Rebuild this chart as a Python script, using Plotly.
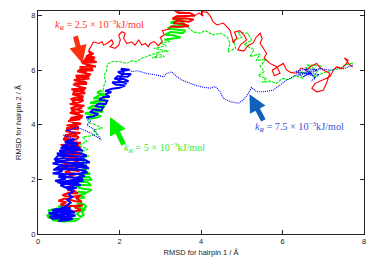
import plotly.graph_objects as go

# ---- trajectories (RMSD hairpin 1, RMSD hairpin 2) ----
# dense (heavily sampled) regions of each trajectory; None separates pieces
red_dense = [
 (0.62,0.9),(0.85,0.82),(1.05,0.88),(0.9,0.98),(1.1,1.05),(0.75,1.02),(0.55,1.08),(0.7,1.16),(0.5,1.22),(0.66,1.3),(0.92,1.2),(1.08,1.18),(0.95,1.3),(1.04,1.4),(0.78,1.36),(0.6,1.42),(0.74,1.5),(0.98,1.48),(0.9,1.58),(0.72,1.6),(0.86,1.68),(0.8,1.76),
 (0.92,1.86),(0.8,1.95),(0.9,2.05),(0.76,2.12),
 (0.95,2.2),(0.66,2.26),(0.82,2.34),(1.02,2.3),(0.6,2.42),(0.75,2.5),(1.04,2.46),(0.88,2.58),(0.58,2.62),(0.7,2.7),(1.05,2.72),(0.92,2.8),(0.56,2.86),(0.8,2.9),(1.08,2.94),(0.74,3.0),(0.6,3.06),(0.95,3.1),(1.04,3.18),(0.62,3.16),(0.58,3.26),(0.86,3.28),(1.05,3.34),(0.7,3.38),(0.62,3.48),(0.94,3.46),(1.0,3.56),(0.66,3.6),(0.8,3.66),(1.04,3.7),(0.68,3.76),(0.74,3.86),(1.0,3.84),(0.9,3.94),(0.7,3.98),(1.06,4.04),(0.86,4.1),(0.74,4.14),(1.04,4.2),(0.8,4.26),(1.1,4.32),(0.9,4.38),(0.78,4.44),(1.12,4.48),(0.96,4.56),(0.8,4.6),(0.9,4.66),(1.14,4.7),(0.78,4.76),(1.0,4.82),(1.12,4.9),(0.8,4.94),(0.92,5.0),(1.12,5.04),(0.84,5.12),(1.16,5.16),(0.98,5.22),(0.82,5.3),(1.18,5.34),(1.0,5.4),(0.86,5.48),(1.2,5.5),(1.06,5.58),(0.88,5.64),(1.26,5.7),(1.1,5.74),(0.92,5.8),(1.3,5.84),(1.12,5.9),(0.96,5.96),(1.36,6.0),(1.2,6.06),(1.02,6.12),(1.42,6.14),(1.26,6.2),(1.08,6.26),(1.44,6.3),(1.3,6.36),(1.14,6.42),(1.4,6.46),(1.22,6.54),(1.36,6.6),(1.24,6.7),
 (1.3,6.62),(1.18,6.5),(1.38,6.38),(1.06,6.32),(1.22,6.16),(1.34,6.06),(1.0,6.02),(1.16,5.92),(1.26,5.78),(0.94,5.74),(1.1,5.62),(1.2,5.54),(0.9,5.52),(1.06,5.36),(1.14,5.26),(0.86,5.2),(1.02,5.08),(1.1,4.98),(0.84,4.86),(0.96,4.72),(1.08,4.62),(0.82,4.52),(1.0,4.42),(1.06,4.26),(0.78,4.2),(0.9,4.02),(1.0,3.92),(0.7,3.88),(0.82,3.72),(0.96,3.62),(0.64,3.54),(0.8,3.4),(1.0,3.24),(0.66,3.2),(0.8,3.04),(1.02,2.98),(0.62,2.96),(0.76,2.8),(1.0,2.62),(0.64,2.56),(0.84,2.44),(0.96,2.36),
 None,
 (3.25,7.6),(3.45,7.58),(3.7,7.62),(3.55,7.7),(3.32,7.72),(3.42,7.82),(3.7,7.78),(3.82,7.86),(3.6,7.9),(3.3,7.88),(3.4,7.98),(3.65,8.0),(3.85,8.0),(3.72,8.1),(3.45,8.1),(3.36,8.18),(3.6,8.2),(3.78,8.22),(3.55,8.3),
]
red_trail = [
 (1.24,6.7),(1.32,6.92),(1.36,7.04),(1.49,6.98),(1.57,7.04),(1.61,6.92),(1.69,6.98),(1.81,7.11),(1.85,6.98),(1.77,6.86),(1.89,6.8),(1.98,6.92),(2.02,7.11),(1.98,7.29),(2.06,7.41),(2.14,7.35),(2.1,7.17),(2.18,6.98),(2.3,7.04),(2.38,6.92),(2.47,7.11),(2.55,6.92),(2.63,6.98),(2.71,6.86),(2.75,6.98),(2.85,7.05),(2.95,6.9),(3.05,7.05),(3.0,7.2),(3.1,7.3),(3.05,7.45),(3.2,7.5),(3.25,7.6),
 None,
 (3.85,8.0),(3.95,8.1),(4.05,7.98),(4.02,8.15),(4.15,8.12),(4.22,8.0),(4.3,7.77),(4.39,7.66),(4.55,7.73),(4.62,7.6),(4.71,7.47),(4.76,7.22),(4.79,7.0),(4.88,7.18),(4.82,7.4),(4.95,7.45),(5.05,7.3),(5.12,7.11),(4.98,6.95),(4.9,6.75),(5.05,6.7),(5.15,6.9),(5.28,7.0),(5.35,7.2),(5.45,7.36),(5.5,7.15),(5.45,6.99),(5.61,6.62),(5.55,6.45),(5.69,6.25),(5.86,6.13),(5.94,5.89),(5.8,5.8),(5.75,6.0),(6.02,6.25),(6.1,6.01),(6.2,5.92),(6.35,5.89),(6.45,6.08),(6.59,6.01),(6.7,6.15),(6.84,6.25),(6.92,6.1),(7.0,6.01),(7.16,5.89),(7.08,5.52),(7.0,5.27),(6.84,5.21),(6.72,5.34),(6.8,5.52),(6.96,5.64),(7.16,5.76),(7.25,6.0),(7.33,6.13),(7.45,6.05),(7.57,6.25),(7.61,6.37),(7.52,6.45),(7.65,6.2),(7.72,6.12),
]

green_dense = [
 (0.35,0.5),(0.62,0.46),(0.9,0.48),(1.02,0.56),(0.75,0.55),(0.45,0.54),(0.26,0.6),(0.22,0.7),(0.4,0.65),(0.3,0.78),(0.25,0.86),(0.4,0.92),(0.6,0.96),(0.5,1.02),(0.8,1.04),(1.0,0.98),(1.15,0.9),(1.08,0.8),(1.12,0.7),(1.05,0.62),(0.95,0.74),(1.18,1.0),(1.12,1.1),(0.95,1.12),(1.05,1.05),
 (1.05,1.2),(0.95,1.28),(1.15,1.34),(1.0,1.42),(1.18,1.48),
 (0.98,1.55),(1.2,1.52),(1.32,1.62),(1.1,1.66),(0.94,1.72),(1.05,1.8),(1.3,1.78),(1.22,1.9),(0.96,1.92),(1.1,2.0),(1.32,1.98),(1.25,2.1),(1.0,2.08),(1.06,2.2),(1.28,2.2),(1.15,2.3),(1.08,2.36),(1.2,2.36),
 None,
 (1.2,4.22),(1.4,4.25),(1.55,4.32),(1.3,4.36),(1.15,4.42),(1.38,4.48),(1.6,4.48),(1.5,4.58),(1.22,4.6),(1.35,4.7),(1.64,4.66),(1.55,4.78),(1.28,4.8),(1.45,4.88),(1.68,4.86),(1.6,4.98),(1.36,4.96),(1.5,5.08),(1.66,5.1),(1.45,5.18),(1.55,5.26),
 None,
 (3.1,7.12),(3.3,7.16),(3.5,7.2),(3.3,7.28),(3.12,7.3),(3.25,7.4),(3.55,7.36),(3.62,7.46),(3.4,7.5),(3.18,7.52),(3.3,7.62),(3.58,7.6),(3.45,7.7),(3.25,7.74),(3.4,7.82),(3.56,7.8),(3.46,7.92),(3.35,7.94),(3.6,7.68),
]
green_trail = [
 (1.2,2.36),(1.05,2.48),(1.2,2.6),(1.0,2.72),(1.25,2.85),(1.05,3.0),(1.22,3.1),(1.0,3.25),(1.2,3.4),(1.1,3.55),(1.3,3.6),(1.45,3.65),(1.35,3.8),(1.58,3.88),(1.4,4.0),(1.25,4.08),(1.2,4.22),
 None,
 (1.55,5.26),(1.6,5.2),(1.61,5.4),(1.66,5.6),(1.62,5.8),(1.69,6.0),(1.69,6.13),(1.73,6.25),(1.85,6.32),(2.02,6.31),(2.18,6.25),(2.3,6.35),(2.43,6.31),(2.55,6.45),(2.67,6.5),(2.83,6.6),(2.95,6.55),
 (2.8,6.45),(3.1,6.5),(2.9,6.65),(3.2,6.7),(2.85,6.8),(3.15,6.9),(3.0,7.0),(3.25,7.05),(3.1,7.12),
 None,
 (3.6,7.68),(3.81,7.4),(3.98,7.36),(4.1,7.45),(4.17,7.4),(4.3,7.29),(4.47,7.36),(4.64,7.22),(4.71,7.0),(4.66,6.67),
 (4.85,6.8),(4.8,7.1),(5.0,7.2),(4.9,7.4),(5.15,7.35),(5.25,7.1),(5.05,6.95),(5.3,6.75),(5.2,6.5),(5.45,6.6),(5.35,6.35),(5.6,6.4),(5.45,6.15),(5.55,5.95),(5.4,5.8),(5.6,5.7),(5.5,5.55),(5.7,5.6),(5.85,5.52),(6.0,5.7),(6.15,5.65),(6.3,5.8),(6.5,5.7),(6.4,5.95),(6.7,5.85),(6.55,6.1),(6.85,6.0),(6.6,6.2),(6.95,6.15),(6.75,5.75),(7.0,5.9),(7.2,6.0),(7.4,6.05),(7.55,6.2),(7.73,6.26),
]

blue_dense = [
 (0.5,0.48),(0.72,0.5),(0.85,0.56),(0.6,0.58),(0.35,0.56),(0.28,0.64),(0.5,0.66),(0.78,0.62),(0.92,0.68),(0.7,0.72),(0.42,0.7),(0.26,0.76),(0.48,0.8),(0.66,0.78),(0.9,0.78),(0.82,0.86),(0.58,0.84),(0.34,0.86),(0.46,0.92),(0.7,0.9),(0.8,0.95),(0.6,0.98),(0.5,0.88),(0.4,0.62),(0.65,0.66),(0.55,0.52),(0.8,0.7),(0.62,0.94),
 (0.72,1.05),(0.8,1.15),(0.72,1.25),(0.84,1.35),(0.76,1.45),(0.86,1.55),
 (0.7,1.68),(0.95,1.7),(0.8,1.62),(0.55,1.78),(0.74,1.85),(1.05,1.78),(0.9,1.9),(1.12,1.95),(0.6,1.88),(0.42,1.95),(0.68,2.02),(0.5,2.1),(0.9,2.06),(1.15,2.12),(0.98,2.2),(1.22,2.25),(0.8,2.18),(0.36,2.22),(0.6,2.3),(0.45,2.4),(0.85,2.35),(1.0,2.45),(1.25,2.4),(1.1,2.55),(0.7,2.5),(0.36,2.58),(0.55,2.66),(0.8,2.6),(1.27,2.62),(1.15,2.72),(0.9,2.7),(0.62,2.78),(0.4,2.72),(0.5,2.88),(0.78,2.85),(1.2,2.86),(1.05,2.96),(0.7,2.98),(0.52,3.05),(0.85,3.1),(1.1,3.05),(0.95,3.2),(0.6,3.22),(0.75,3.32),(0.98,3.3),(0.7,3.42),(0.9,3.46),
 (0.66,3.36),(0.92,3.24),(0.55,3.14),(1.05,3.12),(0.8,3.0),(0.46,2.95),(0.62,2.9),(1.14,2.8),(1.0,2.76),(0.42,2.66),(0.7,2.62),(1.2,2.5),(0.9,2.48),(0.5,2.46),(0.38,2.34),(0.72,2.4),(1.18,2.32),(1.05,2.22),(0.5,2.18),(0.7,2.1),(1.1,2.02),(0.85,1.98),(0.48,1.9),(0.62,1.82),(1.0,1.84),(0.82,1.75),(0.65,1.7),
 None,
 (1.18,4.28),(1.35,4.3),(1.48,4.4),(1.28,4.46),(1.36,4.56),(1.55,4.52),(1.6,4.64),(1.4,4.68),(1.5,4.78),(1.66,4.76),(1.7,4.88),(1.5,4.92),(1.6,5.02),(1.76,5.02),(1.66,5.12),(1.8,5.2),(1.65,5.24),
 (1.82,5.32),(2.0,5.36),(2.14,5.44),(1.9,5.48),(1.82,5.56),(2.05,5.56),(2.22,5.6),(2.1,5.68),(1.88,5.68),(1.95,5.78),(2.2,5.76),(2.28,5.86),(2.05,5.86),(1.96,5.94),(2.15,5.98),(2.24,6.02),(2.04,6.05),(2.1,5.9),(1.98,5.62),(2.18,5.5),
]
blue_trail = [
 (0.9,3.46),(0.75,3.55),(0.62,3.62),(0.9,3.7),(0.7,3.8),(0.98,3.9),(1.3,3.7),(1.55,3.45),(1.4,3.8),(1.2,4.0),(1.3,4.15),(1.18,4.28),
 None,
 (2.24,6.02),(2.3,5.95),(2.45,5.98),(2.67,5.88),(2.92,5.82),(3.08,5.76),(3.16,5.88),(3.28,5.94),(3.41,5.76),(3.53,5.64),(3.73,5.52),(3.98,5.4),(4.22,5.34),(4.35,5.4),(4.47,5.21),(4.55,4.97),(4.71,4.85),(4.92,4.79),(5.04,4.91),(5.16,5.15),(5.24,5.37),(5.37,5.21),(5.53,5.21),(5.77,5.27),(5.94,5.46),(6.1,5.64),(6.26,5.76),(6.43,5.88),
 (6.4,5.8),(6.7,5.95),(6.5,5.75),(6.85,6.0),(6.45,5.9),(6.9,5.85),(6.7,5.6),(6.8,5.7),(6.6,6.05),(6.3,5.95),(6.75,5.8),(6.55,6.0),(6.95,6.05),(7.2,6.0),(7.35,6.1),(7.5,6.05),(7.73,6.19),
]

series_dense = [green_dense, red_dense, blue_dense]
series_trail = [green_trail, red_trail, blue_trail]
series_colors = ["#00f000", "#ff0000", "#0000ff"]
series_dash = ["3px,1px", "solid", "1px,1px"]

labels = [
    "<i>k<sub>R</sub></i> = 2.5 × 10<sup>−3</sup>kJ/mol",
    "<i>k<sub>R</sub></i> = 5 × 10<sup>−3</sup>kJ/mol",
    "<i>k<sub>R</sub></i> = 7.5 × 10<sup>−3</sup>kJ/mol",
]
label_xy = [(1.5, 7.66), (3.1, 3.15), (6.42, 3.92)]
label_colors = ["#ff3333", "#33ee33", "#3355dd"]
arrow_tip = [(1.09, 6.26), (1.77, 4.29), (5.19, 5.12)]
arrow_tail = [(0.91, 7.3), (2.12, 3.22), (5.55, 4.11)]
arrow_colors = ["#ff3010", "#00ee00", "#1060b8"]


def xs_ys(path):
    xs = [None if p is None else p[0] for p in path]
    ys = [None if p is None else p[1] for p in path]
    return xs, ys


fig = go.Figure()
for dense, trail, col, dash in zip(series_dense, series_trail, series_colors, series_dash):
    tx, ty = xs_ys(trail)
    fig.add_trace(go.Scatter(x=tx, y=ty, mode="lines", connectgaps=False,
                             line=dict(color=col, width=1.1, dash=dash)))
    dx, dy = xs_ys(dense)
    fig.add_trace(go.Scatter(x=dx, y=dy, mode="lines", connectgaps=False,
                             line=dict(color=col, width=2.0)))

for txt, (lx, ly), lc in zip(labels, label_xy, label_colors):
    fig.add_annotation(x=lx, y=ly, text=txt, showarrow=False,
                       font=dict(family="Liberation Serif", size=10.2, color=lc))
for (tx, ty), (sx, sy), ac in zip(arrow_tip, arrow_tail, arrow_colors):
    fig.add_annotation(x=tx, y=ty, ax=sx, ay=sy, axref="x", ayref="y",
                       text="", showarrow=True, arrowhead=2, arrowsize=0.7,
                       arrowwidth=5, arrowcolor=ac, standoff=0)

axis_common = dict(showline=True, linecolor="#222", linewidth=1, mirror="ticks",
                   ticks="inside", ticklen=4, tickcolor="#222", showgrid=False,
                   zeroline=False, tickfont=dict(family="Liberation Sans", size=7.5, color="#222"),
                   dtick=2, tick0=0)
fig.update_xaxes(range=[0, 8],
                 title=dict(text="RMSD for hairpin 1 / Å", standoff=4,
                            font=dict(family="Liberation Sans", size=7.5, color="#222")),
                 **axis_common)
fig.update_yaxes(range=[0, 8.17],
                 title=dict(text="RMSD for hairpin 2 / Å", standoff=8,
                            font=dict(family="Liberation Sans", size=7.5, color="#222")),
                 **axis_common)
fig.update_layout(width=382, height=268, margin=dict(l=38, r=18, t=11, b=34),
                  paper_bgcolor="white", plot_bgcolor="white", showlegend=False)
fig.write_html("out.html", config={"displayModeBar": False},
               post_script="document.body.style.margin='0';")
